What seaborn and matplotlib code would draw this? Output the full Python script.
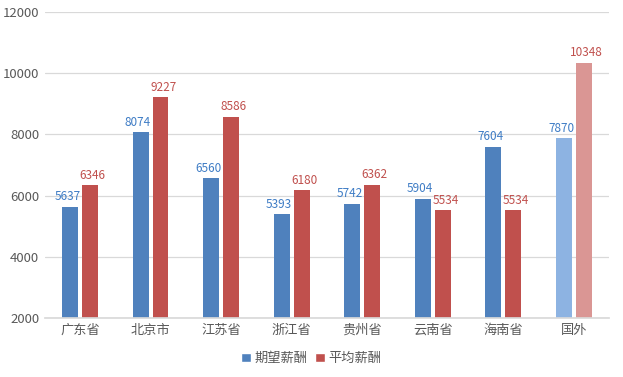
import pandas as pd
import seaborn as sns
import matplotlib.pyplot as plt
from matplotlib.patches import Patch

regions = ["广东省", "北京市", "江苏省", "浙江省", "贵州省", "云南省", "海南省", "国外"]
expected = [5637, 8074, 6560, 5393, 5742, 5904, 7604, 7870]
average = [6346, 9227, 8586, 6180, 6362, 5534, 5534, 10348]
series = ["期望薪酬", "平均薪酬"]

df = pd.DataFrame({
    "region": regions * 2,
    "salary": expected + average,
    "kind": [series[0]] * len(regions) + [series[1]] * len(regions),
})

sns.set_theme(style="white")
plt.rcParams["font.family"] = ["Noto Sans CJK SC", "DejaVu Sans"]

blue, red = "#4F81BD", "#C0504D"
blue_light, red_light = "#8DB3E2", "#DA9694"

fig = plt.figure(figsize=(6.23, 3.77), dpi=100)
ax = fig.add_axes([0.072, 0.1565, 0.9055, 0.8115])

sns.barplot(data=df, x="region", y="salary", hue="kind", order=regions,
            hue_order=series, palette=[blue, red], width=0.56, gap=0.19,
            saturation=1, edgecolor="none", legend=False, ax=ax)

# recolor the last group and add value labels
n = len(regions)
for i, bar in enumerate(ax.patches[:2 * n]):
    is_blue = i < n
    idx = i % n
    if idx == n - 1:
        bar.set_facecolor(blue_light if is_blue else red_light)
    h = bar.get_height()
    x = bar.get_x() + bar.get_width() / 2 + (-0.04 if is_blue else 0.04)
    ax.text(x, h + 110, f"{int(h)}", ha="center", va="bottom", fontsize=8.5,
            color="#3E7CC5" if is_blue else "#C0504D")

ax.set_ylim(2000, 12000)
ax.set_yticks(range(2000, 12001, 2000))
ax.set_xlim(-0.5, n - 0.5)
ax.set_xlabel("")
ax.set_ylabel("")
ax.grid(axis="y", color="#D9D9D9", linewidth=0.9)
ax.set_axisbelow(True)
for s in ["left", "right", "top"]:
    ax.spines[s].set_visible(False)
ax.spines["bottom"].set_color("#D9D9D9")
ax.tick_params(axis="both", length=0, labelsize=9.5, colors="#595959", pad=4)

handles = [Patch(facecolor=blue, label=series[0]), Patch(facecolor=red, label=series[1])]
fig.legend(handles=handles, loc="lower center", bbox_to_anchor=(0.5, 0.0), ncol=2,
           frameon=False, fontsize=9.5, handlelength=0.7, handleheight=0.7,
           handletextpad=0.3, columnspacing=0.6, labelcolor="#595959")

fig.savefig("out.png", dpi=100)
